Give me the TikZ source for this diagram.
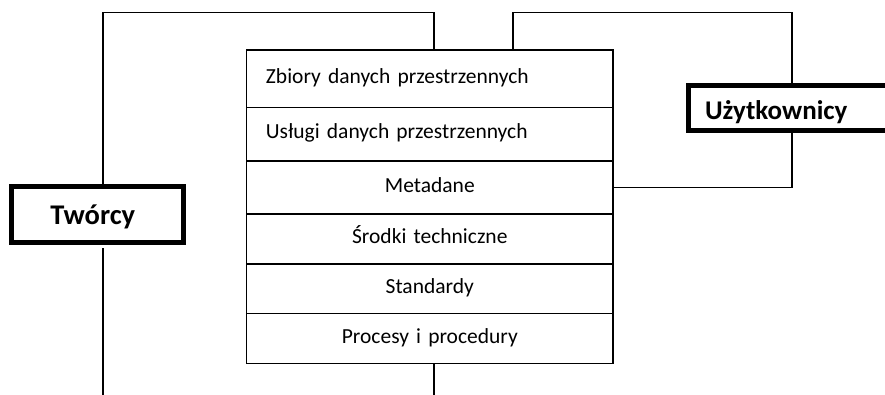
\documentclass[tikz,border=0pt]{standalone}
\usepackage{fontspec}
\setmainfont{Carlito}
\usetikzlibrary{calc}
\begin{document}
\begin{tikzpicture}[x=1pt,y=1pt,
  rowbox/.style={draw, line width=1.8pt, anchor=north west, inner xsep=19.5pt, inner ysep=0pt,
    text width=327.8pt, text height=15.5pt, text depth=6pt, font=\fontsize{21.5}{25}\selectfont},
  actor/.style={draw, line width=5pt, inner ysep=0pt, text depth=0pt},
  wire/.style={line width=1.8pt}]
\clip (0,0) rectangle (885,395);
\fill[white] (0,0) rectangle (885,395);
\coordinate (ytop) at (0,382.5);
\coordinate (ybot) at (0,-5);
% stack
\node[rowbox, align=left,   minimum height=57.7pt] (r1) at (245.5,346)   {Zbiory danych przestrzennych};
\node[rowbox, align=left,   minimum height=53.3pt] (r2) at (245.5,288.3) {Usługi danych przestrzennych};
\node[rowbox, align=center, minimum height=53.3pt] (r3) at (245.5,235)   {Metadane};
\node[rowbox, align=center, minimum height=50pt]   (r4) at (245.5,181.7) {Środki techniczne};
\node[rowbox, align=center, minimum height=49.4pt] (r5) at (245.5,131.7) {Standardy};
\node[rowbox, align=center, minimum height=50pt]   (r6) at (245.5,82.3)  {Procesy i procedury};
% actors
\node[actor, font=\bfseries\fontsize{28.5}{32}\selectfont, minimum width=171.5pt, minimum height=56pt,
  text height=20pt, align=center, text width=140pt] (tw) at (97.3,180) {\hspace*{-9pt}Twórcy};
\node[actor, font=\bfseries\fontsize{27}{31}\selectfont, minimum height=45.5pt, text height=23.5pt,
  align=left, inner xsep=16.5pt, text width=173.4pt] (uz) at (791.7,286.75) {Użytkownicy};
% connectors
\draw[wire] ([xshift=5.7pt]tw.north) -- ([xshift=5.7pt]tw.north |- ytop) -| ([xshift=4.1pt]r1.north);
\draw[wire] ([xshift=83.4pt]r1.north) -- ([xshift=83.4pt]r1.north |- ytop) -| (uz.north);
\draw[wire] (uz.south) |- (r3.east);
\draw[wire, shorten <=3pt] ([xshift=5.7pt]tw.south) -- ([xshift=5.7pt]tw.south |- ybot);
\draw[wire] ([xshift=4.1pt]r6.south) -- ([xshift=4.1pt]r6.south |- ybot);
\end{tikzpicture}
\end{document}
